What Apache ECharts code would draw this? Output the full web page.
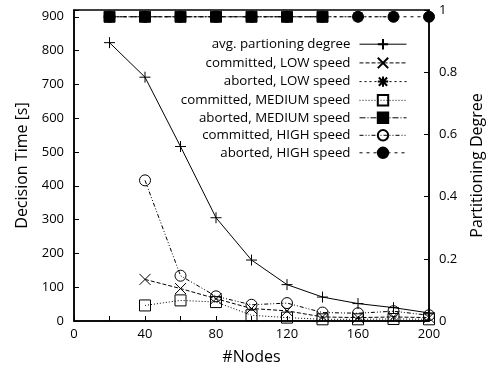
<!DOCTYPE html>
<html><head><meta charset="utf-8">
<script src="https://cdn.jsdelivr.net/npm/echarts@6/dist/echarts.min.js"></script>
<style>html,body{margin:0;padding:0;background:#fff}#c{width:493px;height:370px}</style>
</head><body><div id="c"></div>
<script>
const nodes = [20, 40, 60, 80, 100, 120, 140, 160, 180, 200];
const xTicks = [0, 40, 80, 120, 160, 200];
const leftTicks = [0, 100, 200, 300, 400, 500, 600, 700, 800, 900];
const rightTicks = [0, 0.2, 0.4, 0.6, 0.8, 1];
const avgDegree = [0.895, 0.784, 0.561, 0.332, 0.196, 0.117, 0.077, 0.056, 0.043, 0.026];
const committedLow = [null, 123, 96, 66, 37, 30, 12, 10, 12, 10];
const abortedLow = [900, 900, 900, 900, 900, 900, 900, 900, 900, null];
const committedMedium = [null, 46, 61, 56, 17, 10, 5, 5, 6, 5];
const abortedMedium = [900, 900, 900, 900, 900, 900, 900, null, null, null];
const committedHigh = [null, 416, 134, 73, 48, 53, 25, 23, 29, 17];
const abortedHigh = [900, 900, 900, 900, 900, 900, 900, 900, 900, 900];
const names = ['avg. partioning degree', 'committed, LOW speed', 'aborted, LOW speed',
  'committed, MEDIUM speed', 'aborted, MEDIUM speed', 'committed, HIGH speed', 'aborted, HIGH speed'];

const PLUS = 'path://M5,0L5,10M0,5L10,5';
const CROSS = 'path://M0,0L10,10M10,0L0,10';
const STAR = 'path://M5,0L5,10M0,5L10,5M1,1L9,9M9,1L1,9';
const FONT = '"Open Sans", "DejaVu Sans", sans-serif';

function pairs(arr) { return nodes.map((x, i) => [x, arr[i]]); }
function mk(name, arr, symbol, filled, dash, yIdx, z) {
  return {
    name, type: 'line', data: pairs(arr), yAxisIndex: yIdx, z: z,
    symbol, symbolSize: 11, showSymbol: true, connectNulls: false,
    animation: false, silent: true,
    lineStyle: { color: '#000', width: 1, type: dash },
    itemStyle: { color: filled ? '#000' : 'none', borderColor: '#000', borderWidth: 1 },
    emphasis: { disabled: true }
  };
}
const series = [
  mk(names[0], avgDegree, PLUS, false, 'solid', 1, 3),
  mk(names[1], committedLow, CROSS, false, [4, 2], 0, 3),
  mk(names[2], abortedLow, STAR, false, [2, 3], 0, 3),
  mk(names[3], committedMedium, 'rect', false, [1, 2], 0, 3),
  mk(names[4], abortedMedium, 'rect', true, [6, 2, 1, 2], 0, 5),
  mk(names[5], committedHigh, 'circle', false, [4, 2, 1, 2, 1, 2], 0, 3),
  mk(names[6], abortedHigh, 'circle', true, [3, 4], 0, 4)
];

const chart = echarts.init(document.getElementById('c'), null, { renderer: 'canvas' });
chart.setOption({
  animation: false,
  textStyle: { fontFamily: FONT },
  grid: { left: 74, right: 63, top: 10, bottom: 49, show: true, borderColor: '#000', borderWidth: 1.5, backgroundColor: 'transparent' },
  legend: {
    orient: 'vertical', align: 'right', right: 86, top: 36.5, padding: 0,
    itemWidth: 47, itemHeight: 13, itemGap: 3.3,
    lineStyle: { width: 1 },
    textStyle: { fontSize: 13.3, color: '#000', fontFamily: FONT, padding: [0, 4, 0, 0] },
    data: names, selectedMode: false
  },
  xAxis: {
    type: 'value', min: 0, max: 200, interval: 20,
    name: '#Nodes', nameLocation: 'middle', nameGap: 28,
    nameTextStyle: { fontSize: 16, color: '#000', fontFamily: FONT },
    axisLine: { lineStyle: { color: '#000', width: 1.5 } },
    axisTick: { inside: true, length: 5, lineStyle: { color: '#000' } },
    axisLabel: { fontSize: 13, color: '#000', margin: 7, fontFamily: FONT,
      formatter: v => xTicks.includes(v) ? String(v) : '' },
    splitLine: { show: false }
  },
  yAxis: [{
    type: 'value', min: 0, max: 920, interval: 100, position: 'left',
    name: 'Decision Time [s]', nameLocation: 'middle', nameGap: 38,
    nameTextStyle: { fontSize: 16, color: '#000', fontFamily: FONT },
    axisLine: { show: true, lineStyle: { color: '#000', width: 1.5 } },
    axisTick: { inside: true, length: 5, lineStyle: { color: '#000' } },
    axisLabel: { fontSize: 13, color: '#000', margin: 10, fontFamily: FONT,
      formatter: v => leftTicks.includes(v) ? String(v) : '' },
    splitLine: { show: false }
  }, {
    type: 'value', min: 0, max: 1, interval: 0.2, position: 'right',
    name: 'Partitioning Degree', nameLocation: 'middle', nameGap: 40,
    nameTextStyle: { fontSize: 16, color: '#000', fontFamily: FONT },
    axisLine: { show: true, lineStyle: { color: '#000', width: 1.5 } },
    axisTick: { inside: true, length: 5, lineStyle: { color: '#000' } },
    axisLabel: { fontSize: 13, color: '#000', margin: 10, fontFamily: FONT,
      formatter: v => rightTicks.some(t => Math.abs(t - v) < 1e-9) ? String(+v.toFixed(1)) : '' },
    splitLine: { show: false }
  }],
  series
});
</script></body></html>
